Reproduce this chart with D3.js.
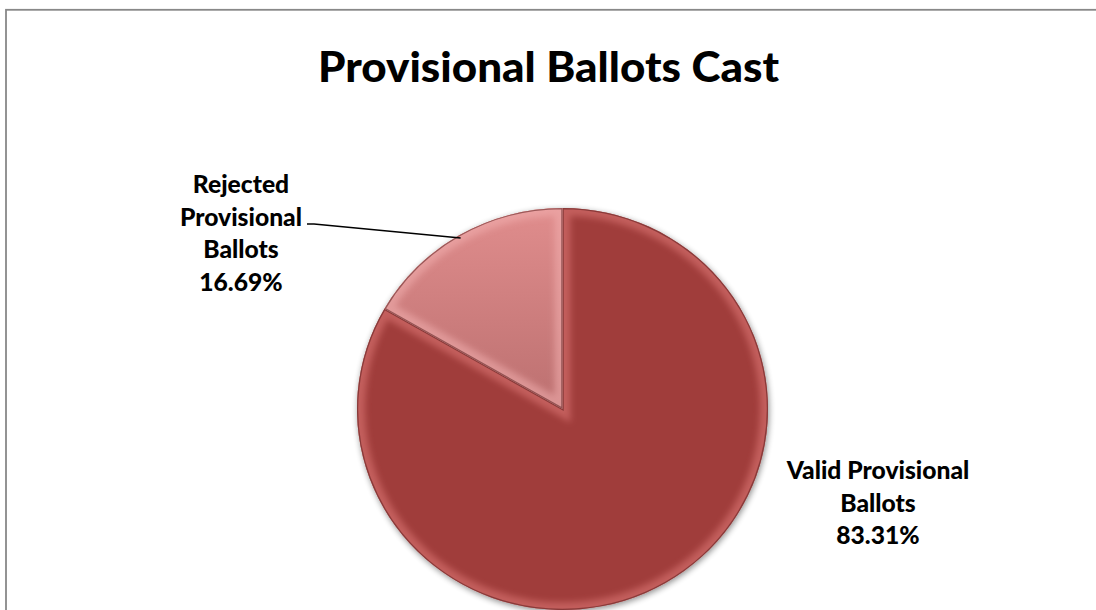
<!DOCTYPE html>
<html>
<head>
<meta charset="utf-8">
<script src="https://cdn.jsdelivr.net/npm/d3@7/dist/d3.min.js"></script>
<style>
  html, body { margin: 0; padding: 0; background: #fff; }
  svg { display: block; }
  text { font-family: Lato, "Open Sans", "DejaVu Sans", sans-serif; font-weight: 900; fill: #000; }
</style>
</head>
<body>
<svg id="chart" width="1096" height="610"></svg>
<script>
// ---- data ----
const title = "Provisional Ballots Cast";
const categories = ["Valid Provisional Ballots", "Rejected Provisional Ballots"];
const values = [83.31, 16.69];
const labelLines = [["Valid Provisional", "Ballots"], ["Rejected", "Provisional", "Ballots"]];
const sliceColors = ["#A03C3B", "#D58484"];

// ---- layout ----
const cx = 562.5, cy = 409, r = 205.5, ryScale = 0.978;
const svg = d3.select("#chart");
const defs = svg.append("defs");

// chart area border
svg.append("rect").attr("x", 6).attr("y", 9.8).attr("width", 1200).attr("height", 800)
  .attr("fill", "#fff").attr("stroke", "#888").attr("stroke-width", 1.8);

// text helper: natural font size, then squeeze horizontally to Calibri-like width
function squeezed(parent, x, y, str, fs, k) {
  const el = parent.append("text").attr("x", x).attr("y", y).attr("text-anchor", "middle")
    .attr("font-size", fs).text(str);
  const w = el.node().getComputedTextLength();
  el.attr("textLength", w * k).attr("lengthAdjust", "spacingAndGlyphs");
  return el;
}

// title
{
  const probe = svg.append("text").attr("font-size", 42).text(title);
  const k = 461 / probe.node().getComputedTextLength();
  probe.remove();
  squeezed(svg, 548.5, 82, title, 42, k);
}

// gradients / filters
const gRej = defs.append("linearGradient").attr("id", "gr")
  .attr("gradientUnits", "userSpaceOnUse").attr("x1", 0).attr("y1", -r).attr("x2", 0).attr("y2", 0);
gRej.append("stop").attr("offset", "0%").attr("stop-color", "#E08D8D");
gRej.append("stop").attr("offset", "100%").attr("stop-color", "#BC7070");

const shadow = defs.append("filter").attr("id", "shadow").attr("x", "-10%").attr("y", "-10%")
  .attr("width", "120%").attr("height", "120%");
shadow.append("feGaussianBlur").attr("in", "SourceAlpha").attr("stdDeviation", 3);
shadow.append("feOffset").attr("dx", 1).attr("dy", 2).attr("result", "b");
shadow.append("feComponentTransfer").append("feFuncA").attr("type", "linear").attr("slope", 0.45);
const m = shadow.append("feMerge");
m.append("feMergeNode");
m.append("feMergeNode").attr("in", "SourceGraphic");

const blur = defs.append("filter").attr("id", "blur");
blur.append("feGaussianBlur").attr("stdDeviation", 3);

// pie
const pie = d3.pie().sort(null).value(d => d)(values);
const arc = d3.arc().innerRadius(0).outerRadius(r);

const g = svg.append("g").attr("transform", `translate(${cx},${cy}) scale(1,${ryScale})`);
g.append("g").attr("filter", "url(#shadow)")
  .selectAll("path").data(pie).join("path")
  .attr("d", arc).attr("fill", (d, i) => sliceColors[i]);

g.append("path").datum(pie[1]).attr("d", arc).attr("fill", "url(#gr)");

pie.forEach((d, i) => {
  defs.append("clipPath").attr("id", "clip" + i).append("path").attr("d", arc(d));
  const gg = g.append("g").attr("clip-path", `url(#clip${i})`);
  gg.append("path").attr("d", arc(d)).attr("fill", "none")
    .attr("stroke", i === 0 ? "#E07A78" : "#F2B0B0").attr("stroke-width", 16)
    .attr("stroke-opacity", 0.55).attr("filter", "url(#blur)");
  gg.append("path").attr("d", arc(d)).attr("fill", "none")
    .attr("stroke", "#5A1E1E").attr("stroke-width", 2.5).attr("stroke-opacity", 0.55);
});

// labels
const lineH = 32.5;
const labelPos = [{x: 878, y: 479}, {x: 241, y: 193}];
const labelFs = 24;
let kLab;
{
  const probe = svg.append("text").attr("font-size", labelFs).text(labelLines[1][1]);
  kLab = 122 / probe.node().getComputedTextLength();
  probe.remove();
}
pie.forEach((d, i) => {
  const lines = labelLines[i].concat([d3.format(".2f")(values[i]) + "%"]);
  lines.forEach((ln, k) => {
    squeezed(svg, labelPos[i].x, labelPos[i].y + k * lineH, ln, labelFs, kLab);
  });
});

// leader line for rejected slice
const mid = (pie[1].startAngle + pie[1].endAngle) / 2;
const ex = cx + r * Math.sin(mid), ey = cy - r * Math.cos(mid) * ryScale;
svg.append("path")
  .attr("d", d3.line()([[307, 224], [314, 224], [ex + 1, ey + 3]]))
  .attr("fill", "none").attr("stroke", "#000").attr("stroke-width", 1.5);
</script>
</body>
</html>
